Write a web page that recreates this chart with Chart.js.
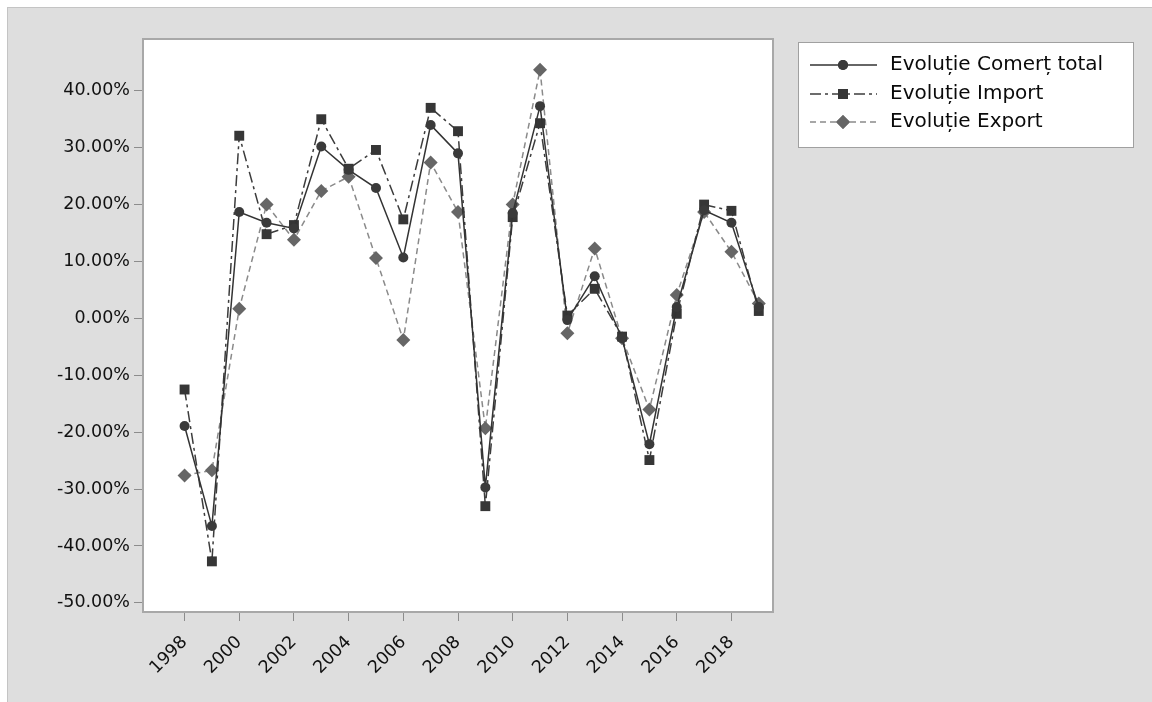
<!DOCTYPE html>
<html>
<head>
<meta charset="utf-8">
<script src="https://cdn.jsdelivr.net/npm/chart.js@4/dist/chart.umd.min.js"></script>
<style>
  html, body { margin: 0; padding: 0; background: #ffffff; }
  #panel { position: absolute; left: 7px; top: 7px; width: 1145px; height: 695px; background: #dedede; border-left: 1px solid #c4c4c4; border-top: 1px solid #c4c4c4; box-sizing: border-box; }
  #wrap { position: absolute; left: 0; top: 0; width: 1152px; height: 702px; }
</style>
</head>
<body>
<div id="panel"></div>
<div id="wrap"><canvas id="c" width="1152" height="702"></canvas></div>
<script>
// ---- data ----
const years = [1998,1999,2000,2001,2002,2003,2004,2005,2006,2007,2008,2009,2010,2011,2012,2013,2014,2015,2016,2017,2018,2019];
const comertTotal = [-18.9,-36.5,18.7,16.8,15.8,30.2,26.1,22.9,10.7,34.0,29.0,-29.7,18.5,37.3,-0.3,7.4,-3.5,-22.1,2.0,19.0,16.8,2.0];
const importVals  = [-12.5,-42.7,32.1,14.8,16.4,35.0,26.3,29.6,17.4,37.0,32.9,-33.0,17.8,34.3,0.5,5.2,-3.2,-24.9,0.8,20.0,18.9,1.3];
const exportVals  = [-27.6,-26.7,1.7,20.0,13.8,22.4,24.9,10.6,-3.8,27.4,18.7,-19.3,20.0,43.7,-2.6,12.3,-3.5,-16.0,4.1,18.7,11.7,2.6];
const seriesNames = ['Evoluție Comerț total','Evoluție Import','Evoluție Export'];
const xTickYears = [1998,2000,2002,2004,2006,2008,2010,2012,2014,2016,2018];
const yTickValues = [-50,-40,-30,-20,-10,0,10,20,30,40];

const FONT = '"DejaVu Sans", Verdana, sans-serif';

function pts(vals) { return years.map((y, i) => ({ x: y, y: vals[i] })); }

const styles = [
  { line: '#333333', fill: '#3a3a3a', dash: [], width: 1.5, point: 'circle', r: 5 },
  { line: '#3c3c3c', fill: '#363636', dash: [11,4,3,4], width: 1.5, point: 'rect', r: 7 },
  { line: '#8a8a8a', fill: '#666666', dash: [6,4], width: 1.5, point: 'rectRot', r: 7 }
];
const seriesVals = [comertTotal, importVals, exportVals];

const datasets = seriesVals.map((v, i) => ({
  label: seriesNames[i],
  data: pts(v),
  borderColor: styles[i].line,
  borderWidth: styles[i].width,
  borderDash: styles[i].dash,
  backgroundColor: styles[i].fill,
  pointStyle: styles[i].point,
  pointRadius: styles[i].r,
  pointBackgroundColor: styles[i].fill,
  pointBorderColor: styles[i].fill,
  pointBorderWidth: 0,
  tension: 0,
  fill: false
}));

const framePlugin = {
  id: 'frame',
  beforeDatasetsDraw(chart) {
    const { ctx, chartArea: a } = chart;
    ctx.save();
    ctx.fillStyle = '#ffffff';
    ctx.fillRect(a.left, a.top, a.right - a.left, a.bottom - a.top);
    ctx.restore();
  },
  afterDraw(chart) {
    const { ctx, chartArea: a } = chart;
    ctx.save();
    ctx.strokeStyle = '#a8a8a8';
    ctx.lineWidth = 2;
    ctx.strokeRect(a.left, a.top, a.right - a.left, a.bottom - a.top);
    ctx.restore();
    // legend
    const lx = 798, ly = 42, lw = 335, lh = 105;
    ctx.save();
    ctx.fillStyle = '#ffffff';
    ctx.fillRect(lx, ly, lw, lh);
    ctx.strokeStyle = '#a0a0a0';
    ctx.lineWidth = 1;
    ctx.strokeRect(lx + 0.5, ly + 0.5, lw, lh);
    const rows = [65, 94, 122];
    chart.data.datasets.forEach((ds, i) => {
      const y = rows[i];
      ctx.save();
      ctx.strokeStyle = ds.borderColor;
      ctx.lineWidth = ds.borderWidth;
      ctx.setLineDash(ds.borderDash);
      ctx.beginPath();
      ctx.moveTo(810, y);
      ctx.lineTo(877, y);
      ctx.stroke();
      ctx.restore();
      ctx.fillStyle = ds.pointBackgroundColor;
      Chart.helpers.drawPoint(ctx, { pointStyle: ds.pointStyle, radius: ds.pointRadius, rotation: 0, borderWidth: 0 }, 843, y);
      ctx.fill();
      ctx.fillStyle = '#0a0a0a';
      ctx.font = '20px ' + FONT;
      ctx.textBaseline = 'middle';
      ctx.textAlign = 'left';
      ctx.fillText(ds.label, 890, y);
    });
    ctx.restore();
  }
};

new Chart(document.getElementById('c'), {
  type: 'line',
  data: { datasets },
  options: {
    responsive: false,
    animation: false,
    layout: { padding: { left: 0, top: 39, right: 379, bottom: 0 } },
    plugins: { legend: { display: false }, tooltip: { enabled: false } },
    scales: {
      x: {
        type: 'linear',
        min: 1996.48,
        max: 2019.52,
        afterBuildTicks(scale) { scale.ticks = xTickYears.map(v => ({ value: v })); },
        afterFit(scale) { scale.height = 90; },
        ticks: {
          autoSkip: false,
          minRotation: 45,
          maxRotation: 45,
          padding: 11,
          color: '#111111',
          font: { family: FONT, size: 17.5 },
          callback: v => String(v)
        },
        grid: { display: true, drawOnChartArea: false, drawTicks: true, tickLength: 9, color: '#8c8c8c' },
        border: { display: false }
      },
      y: {
        type: 'linear',
        min: -51.6,
        max: 49.1,
        afterBuildTicks(scale) { scale.ticks = yTickValues.map(v => ({ value: v })); },
        afterFit(scale) { scale.width = 143; },
        ticks: {
          padding: 4,
          color: '#111111',
          font: { family: FONT, size: 17.5 },
          callback: v => v.toFixed(2) + '%'
        },
        grid: { display: true, drawOnChartArea: false, drawTicks: true, tickLength: 9, color: '#8c8c8c' },
        border: { display: false }
      }
    }
  },
  plugins: [framePlugin]
});
</script>
</body>
</html>
